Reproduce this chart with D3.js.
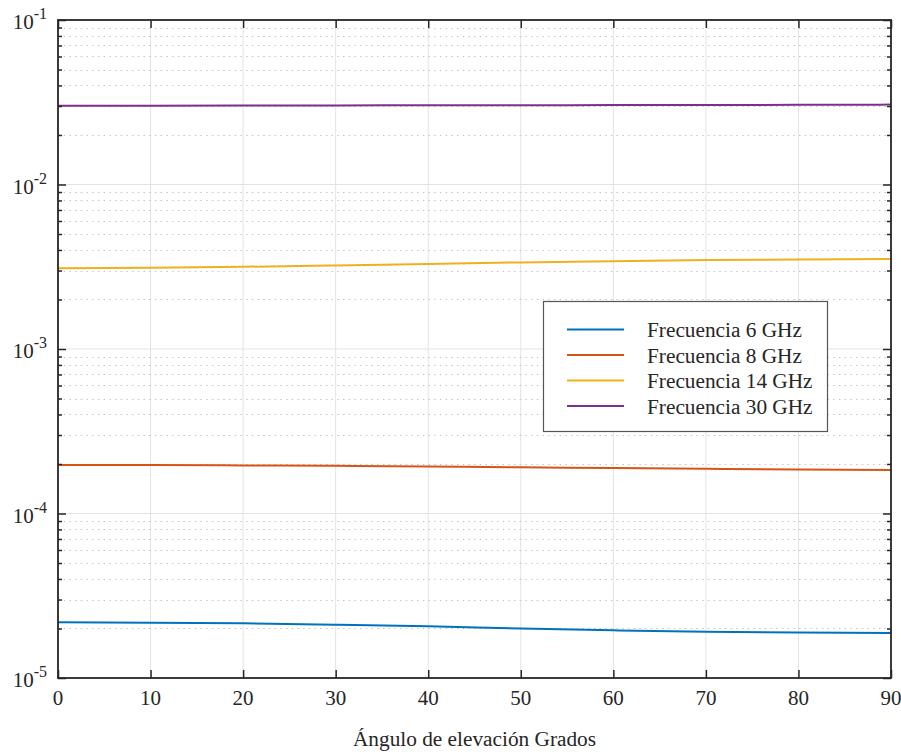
<!DOCTYPE html>
<html><head><meta charset="utf-8">
<script src="https://cdn.jsdelivr.net/npm/d3@7"></script>
<style>body{margin:0;background:#fff}svg{display:block}</style>
</head><body>
<svg id="c" width="901" height="752"></svg>
<script>
const angles = [0,10,20,30,40,50,60,70,80,90];
const f6  = [2.18e-5,2.17e-5,2.15e-5,2.11e-5,2.06e-5,2.00e-5,1.95e-5,1.91e-5,1.89e-5,1.88e-5];
const f8  = [1.97e-4,1.97e-4,1.96e-4,1.95e-4,1.93e-4,1.91e-4,1.89e-4,1.87e-4,1.85e-4,1.84e-4];
const f14 = [3.10e-3,3.12e-3,3.16e-3,3.22e-3,3.29e-3,3.36e-3,3.42e-3,3.47e-3,3.50e-3,3.52e-3];
const f30 = [3.01e-2,3.015e-2,3.02e-2,3.025e-2,3.03e-2,3.035e-2,3.04e-2,3.045e-2,3.05e-2,3.06e-2];
const seriesNames = ["Frecuencia 6 GHz","Frecuencia 8 GHz","Frecuencia 14 GHz","Frecuencia 30 GHz"];
const seriesData = [f6,f8,f14,f30];
const colors = ["#0072BD","#D95319","#EDB120","#7E2F8E"];
const xTicks = [0,10,20,30,40,50,60,70,80,90];
const yExps = [-5,-4,-3,-2,-1];
const xLabel = "Ángulo de elevación Grados";

const L=58,R=891,T=20,B=678;
const svg=d3.select("#c");
const font="'Liberation Serif','Times New Roman',serif";
const x=d3.scaleLinear().domain([0,90]).range([L,R]);
const y=d3.scaleLog().domain([1e-5,1e-1]).range([B,T]);

const minors=[];
for(let e=-5;e<-1;e++) for(let m=2;m<=9;m++) minors.push(m*Math.pow(10,e));
const majors=yExps.map(e=>Math.pow(10,e));

const g=svg.append("g");
g.selectAll(".gx").data(xTicks.slice(1,-1)).enter().append("line")
 .attr("x1",d=>x(d)).attr("x2",d=>x(d)).attr("y1",T).attr("y2",B)
 .attr("stroke","#e3e3e3").attr("stroke-width",1);
g.selectAll(".gm").data(minors).enter().append("line")
 .attr("x1",L).attr("x2",R).attr("y1",d=>Math.round(y(d))+0.5).attr("y2",d=>Math.round(y(d))+0.5)
 .attr("stroke","#c4c4c4").attr("stroke-width",1).attr("stroke-dasharray","1.5,4.2");
g.selectAll(".gy").data(majors.slice(1,-1)).enter().append("line")
 .attr("x1",L).attr("x2",R).attr("y1",d=>y(d)).attr("y2",d=>y(d))
 .attr("stroke","#e3e3e3").attr("stroke-width",1);

const line=d3.line().x((d,i)=>x(angles[i])).y(d=>y(d)).curve(d3.curveMonotoneX);
seriesData.forEach((s,i)=>{
  svg.append("path").attr("d",line(s)).attr("fill","none").attr("stroke",colors[i]).attr("stroke-width",2);
});

const ax="#262626";
const xb=d3.axisBottom(x).tickValues(xTicks).tickSize(-8).tickFormat("");
const xt=d3.axisTop(x).tickValues(xTicks).tickSize(-8).tickFormat("");
svg.append("g").attr("transform",`translate(0,${B})`).call(xb).call(s=>s.select(".domain").remove()).selectAll("line").attr("stroke",ax).attr("stroke-width",1.5);
svg.append("g").attr("transform",`translate(0,${T})`).call(xt).call(s=>s.select(".domain").remove()).selectAll("line").attr("stroke",ax).attr("stroke-width",1.5);
const yl=d3.axisLeft(y).tickValues(majors).tickSize(-8).tickFormat("");
const yr=d3.axisRight(y).tickValues(majors).tickSize(-8).tickFormat("");
const yml=d3.axisLeft(y).tickValues(minors).tickSize(-4).tickFormat("");
const ymr=d3.axisRight(y).tickValues(minors).tickSize(-4).tickFormat("");
[[yl,L],[yr,R],[yml,L],[ymr,R]].forEach(([a,p])=>{
  svg.append("g").attr("transform",`translate(${p},0)`).call(a).call(s=>s.select(".domain").remove()).selectAll("line").attr("stroke",ax).attr("stroke-width",1.5);
});
svg.append("rect").attr("x",L).attr("y",T).attr("width",R-L).attr("height",B-T).attr("fill","none").attr("stroke",ax).attr("stroke-width",1.8);

svg.selectAll(".xl").data(xTicks).enter().append("text")
 .attr("x",d=>x(d)).attr("y",B+27).attr("text-anchor","middle")
 .attr("font-family",font).attr("font-size",21).attr("fill","#262626").text(d=>d);
yExps.forEach(e=>{
  const t=svg.append("text").attr("x",47).attr("y",y(Math.pow(10,e))+9).attr("text-anchor","end")
   .attr("font-family",font).attr("font-size",21).attr("fill","#262626");
  t.append("tspan").text("10");
  t.append("tspan").attr("font-size",16).attr("dy",-10).text(e);
});
svg.append("text").attr("x",(L+R)/2).attr("y",746).attr("text-anchor","middle")
 .attr("font-family",font).attr("font-size",21.3).attr("fill","#262626").text(xLabel);

const lg=svg.append("g");
lg.append("rect").attr("x",543.5).attr("y",301.5).attr("width",284).attr("height",130)
 .attr("fill","#fff").attr("stroke","#555").attr("stroke-width",1.2);
seriesNames.forEach((n,i)=>{
  const yy=329.5+i*25.5;
  lg.append("line").attr("x1",567).attr("x2",624).attr("y1",yy).attr("y2",yy).attr("stroke",colors[i]).attr("stroke-width",2);
  lg.append("text").attr("x",647).attr("y",yy+7.5).attr("font-family",font).attr("font-size",21.3).attr("fill","#262626").text(n);
});
</script>
</body></html>
